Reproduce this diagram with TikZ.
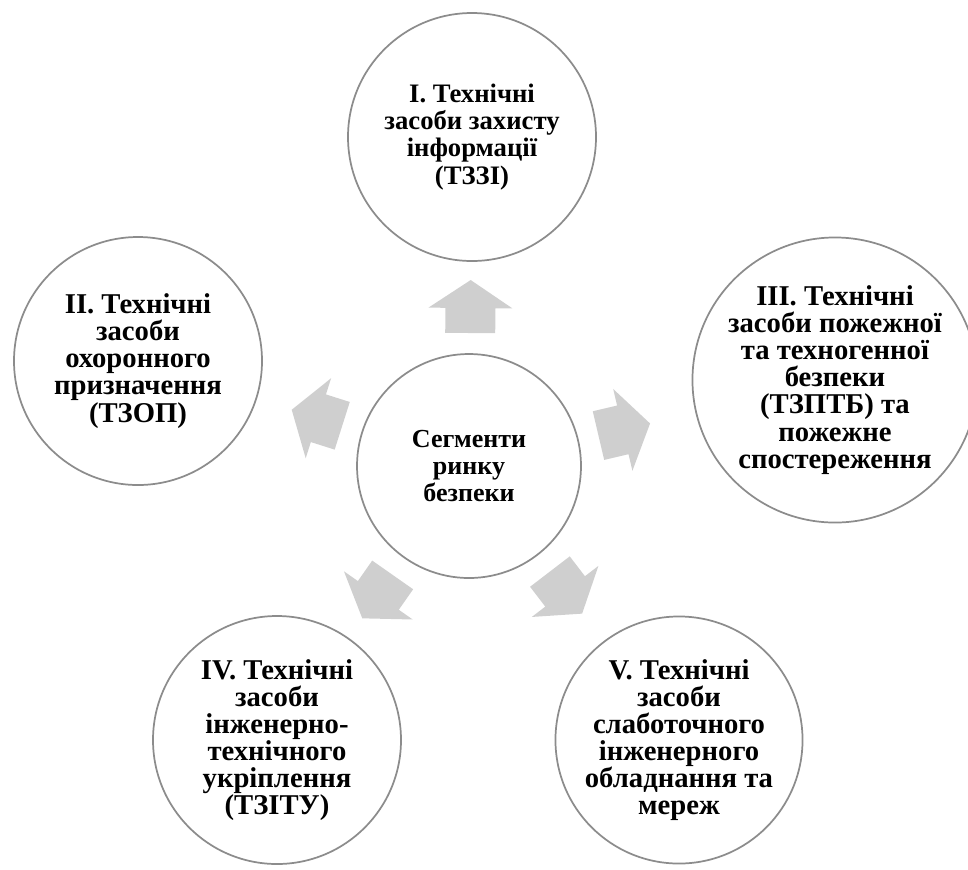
\documentclass[tikz,border=0pt]{standalone}
\usepackage{fontspec}
\setmainfont{Liberation Serif}
\usetikzlibrary{calc}
\definecolor{ringgray}{RGB}{140,140,140}
\definecolor{arrowgray}{RGB}{207,207,207}
\tikzset{
  seg/.style={circle, draw=ringgray, line width=1.3pt, fill=white, inner sep=0pt,
    align=center, font=\bfseries\fontsize{20}{20.3}\selectfont},
  midtext/.style={font=\bfseries\fontsize{19.5}{20.3}\selectfont},
  bigtext/.style={font=\bfseries\fontsize{21.5}{20.3}\selectfont},
  arrowfill/.style={fill=arrowgray}
}
\newcommand\segarrow[1]{%
  \fill[arrowfill]
    ($(C)!99.75pt!(#1)!18.75pt!90:(#1)$) --
    ($(C)!118.5pt!(#1)!18.75pt!90:(#1)$) --
    ($(C)!118.5pt!(#1)!31.5pt!90:(#1)$) --
    ($(C)!139.5pt!(#1)$) --
    ($(C)!118.5pt!(#1)!31.5pt!-90:(#1)$) --
    ($(C)!118.5pt!(#1)!18.75pt!-90:(#1)$) --
    ($(C)!99.75pt!(#1)!18.75pt!-90:(#1)$) -- cycle;}
\begin{document}
\begin{tikzpicture}[x=0.75pt, y=-0.75pt]
\useasboundingbox (0,0) rectangle (968,869);
\node[seg, midtext, minimum size=224*0.75pt] (C) at (469,466) {Сегменти\\ринку\\безпеки};
\node[seg, minimum size=248*0.75pt] (I) at (472,137) {I. Технічні\\засоби захисту\\інформації\\(ТЗЗІ)};
\node[seg, bigtext, minimum size=248*0.75pt] (II) at (138,361) {II. Технічні\\засоби\\охоронного\\призначення\\(ТЗОП)};
\node[seg, bigtext, minimum size=258*0.75pt] (III) at (835,380) {III. Технічні\\засоби пожежної\\та техногенної\\безпеки\\(ТЗПТБ) та\\пожежне\\спостереження};
\node[seg, bigtext, minimum size=248*0.75pt] (IV) at (277,740) {IV. Технічні\\засоби\\інженерно-\\технічного\\укріплення\\(ТЗІТУ)};
\node[seg, bigtext, minimum size=246*0.75pt] (V) at (679,740) {V. Технічні\\засоби\\слаботочного\\інженерного\\обладнання та\\мереж};
\segarrow{I}
\segarrow{II}
\segarrow{III}
\segarrow{IV}
\segarrow{V}
\end{tikzpicture}
\end{document}
